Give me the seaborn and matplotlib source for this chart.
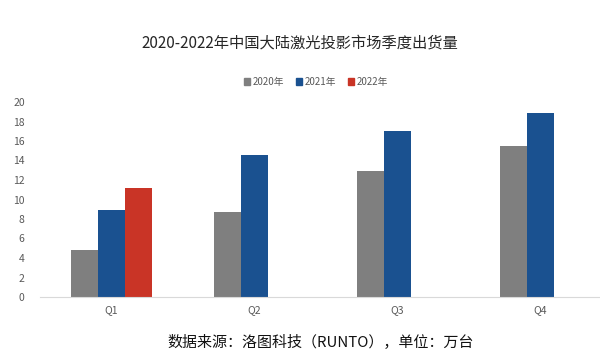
import numpy as np
import pandas as pd
import matplotlib
matplotlib.use('Agg')
import matplotlib.pyplot as plt
import seaborn as sns

quarters = ['Q1', 'Q2', 'Q3', 'Q4']
years = ['2020年', '2021年', '2022年']
ship_2020 = [4.8, 8.7, 12.9, 15.5]
ship_2021 = [8.9, 14.6, 17.0, 18.9]
ship_2022 = [11.2, np.nan, np.nan, np.nan]
colors = ['#7f7f7f', '#1a5190', '#c93426']

df = pd.DataFrame({
    'quarter': quarters * 3,
    'year': [y for y in years for _ in quarters],
    'value': ship_2020 + ship_2021 + ship_2022,
})

sns.set_style('white')
plt.rcParams['font.family'] = ['Noto Sans CJK SC', 'DejaVu Sans']

fig = plt.figure(figsize=(6, 3.64), dpi=100)
ax = fig.add_axes([40 / 600, 67 / 364, 572 / 600, 195 / 364])

sns.barplot(data=df, x='quarter', y='value', hue='year', palette=colors,
            width=0.57, gap=0, saturation=1, edgecolor='none', legend=False, ax=ax)

ax.set_ylim(0, 20)
ax.set_yticks(range(0, 21, 2))
ax.set_xlim(-0.5, 3.5)
ax.set_xlabel('')
ax.set_ylabel('')
ax.tick_params(axis='both', length=0, labelsize=7.5, colors='#595959')
ax.tick_params(axis='y', pad=11)
ax.tick_params(axis='x', pad=6)
for s in ['top', 'right', 'left']:
    ax.spines[s].set_visible(False)
ax.spines['bottom'].set_color('#d9d9d9')

fig.text(0.5, 1 - 43 / 364, '2020-2022年中国大陆激光投影市场季度出货量',
         ha='center', va='center', fontsize=11, color='#262626')

# legend row
handles = [plt.Rectangle((0, 0), 1, 1, color=c) for c in colors]
fig.legend(handles, years, loc='center', bbox_to_anchor=(316 / 600, 1 - 82 / 364),
           ncol=3, frameon=False, fontsize=7, handlelength=0.6, handleheight=0.6,
           handletextpad=0.3, columnspacing=1.2, labelcolor='#595959')

fig.text(321 / 600, 1 - 342 / 364, '数据来源：洛图科技（RUNTO），单位：万台',
         ha='center', va='center', fontsize=10.8, color='#111111')

fig.savefig('out.png', dpi=100)
